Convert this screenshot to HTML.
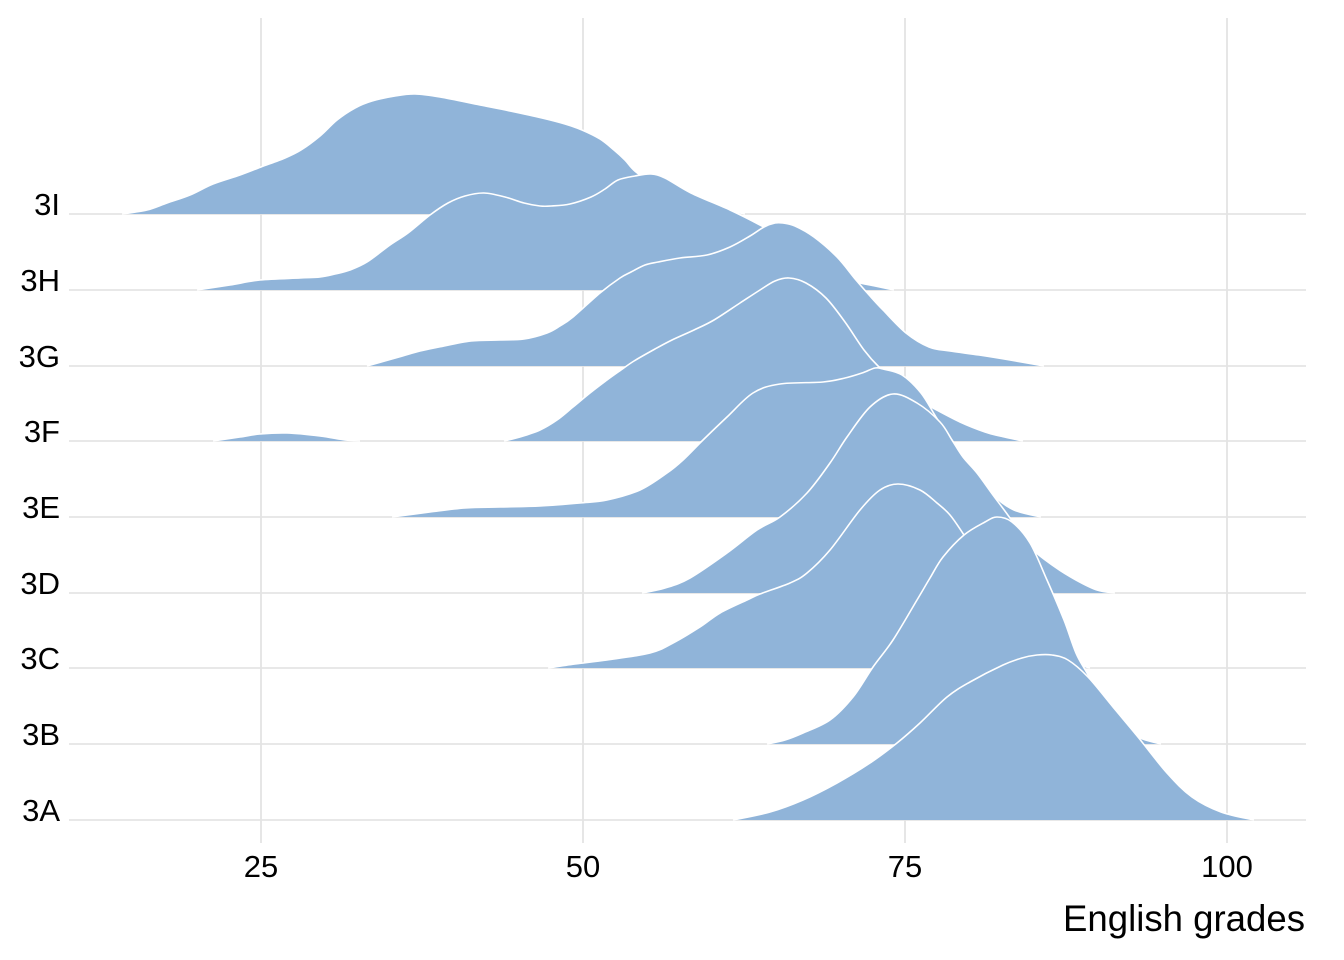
<!DOCTYPE html>
<html><head><meta charset="utf-8"><style>
html,body{margin:0;padding:0;background:#fff;}
svg{display:block;}
text{font-family:"Liberation Sans",Arial,sans-serif;fill:#000;}
</style></head><body>
<svg id="chart" width="1344" height="960" viewBox="0 0 1344 960" xmlns="http://www.w3.org/2000/svg">
<rect width="1344" height="960" fill="#fff"/>
<g stroke="#e4e4e4" stroke-width="1.8">
<line x1="261" y1="18" x2="261" y2="843"/>
<line x1="583" y1="18" x2="583" y2="843"/>
<line x1="905" y1="18" x2="905" y2="843"/>
<line x1="1227" y1="18" x2="1227" y2="843"/>
<line x1="69" y1="214" x2="1306" y2="214"/>
<line x1="69" y1="290" x2="1306" y2="290"/>
<line x1="69" y1="366" x2="1306" y2="366"/>
<line x1="69" y1="441" x2="1306" y2="441"/>
<line x1="69" y1="517" x2="1306" y2="517"/>
<line x1="69" y1="593" x2="1306" y2="593"/>
<line x1="69" y1="668" x2="1306" y2="668"/>
<line x1="69" y1="744" x2="1306" y2="744"/>
<line x1="69" y1="820" x2="1306" y2="820"/>
</g>
<!-- 3I -->
<polygon class="r" fill="#90b4d9" points="122,214 147,210 167,203 190,195 213,184 240,175 261,167 285,158 301,150 320,136 337,120 355,108 372,101 395,96 415,94 440,97 480,105 510,111 542,118 565,124 582,130 600,139 614,150 625,160 636,172 660,188 690,201 720,209 745,214"/>
<polyline class="r" fill="none" stroke="#fff" stroke-width="1.6" points="122,214 147,210 167,203 190,195 213,184 240,175 261,167 285,158 301,150 320,136 337,120 355,108 372,101 395,96 415,94 440,97 480,105 510,111 542,118 565,124 582,130 600,139 614,150 625,160 636,172 660,188 690,201 720,209 745,214"/>
<!-- 3H -->
<polygon class="r" fill="#90b4d9" points="197,290 230,285 260,280 300,278 320,277 335,274 350,270 367,262 390,245 408,233 430,215 448,203 465,196 484,193 505,197 524,203 540,206 551,206 570,204 591,197 605,189 618,180 635,176 651,174 665,178 691,193 730,210 760,225 790,242 820,263 840,276 856,282 875,286 894,290"/>
<polyline class="r" fill="none" stroke="#fff" stroke-width="1.6" points="197,290 230,285 260,280 300,278 320,277 335,274 350,270 367,262 390,245 408,233 430,215 448,203 465,196 484,193 505,197 524,203 540,206 551,206 570,204 591,197 605,189 618,180 635,176 651,174 665,178 691,193 730,210 760,225 790,242 820,263 840,276 856,282 875,286 894,290"/>
<!-- 3G -->
<polygon class="r" fill="#90b4d9" points="367,366 399,357 420,351 439,347 471,341 500,340 524,339 547,333 560,326 573,317 600,293 620,278 631,272 645,265 658,262 680,258 707,255 730,247 750,236 764,227 775,223 783,223 795,226 814,237 837,257 856,280 870,296 883,310 906,333 929,347 950,351 979,355 1010,360 1044,366"/>
<polyline class="r" fill="none" stroke="#fff" stroke-width="1.6" points="367,366 399,357 420,351 439,347 471,341 500,340 524,339 547,333 560,326 573,317 600,293 620,278 631,272 645,265 658,262 680,258 707,255 730,247 750,236 764,227 775,223 783,223 795,226 814,237 837,257 856,280 870,296 883,310 906,333 929,347 950,351 979,355 1010,360 1044,366"/>
<!-- 3F -->
<polygon class="r" fill="#90b4d9" points="213,441 240,437 260,434 287,433 320,436 345,440 360,441"/>
<polyline class="r" fill="none" stroke="#fff" stroke-width="1.6" points="213,441 240,437 260,434 287,433 320,436 345,440 360,441"/>
<polygon class="r" fill="#90b4d9" points="504,441 520,437 540,430 557,420 573,407 590,393 607,380 621,370 634,361 655,349 672,340 694,330 714,320 740,303 760,290 775,281 789,278 806,283 826,298 845,322 864,350 879,367 900,385 915,398 933,408 960,422 985,432 1000,436 1023,441"/>
<polyline class="r" fill="none" stroke="#fff" stroke-width="1.6" points="504,441 520,437 540,430 557,420 573,407 590,393 607,380 621,370 634,361 655,349 672,340 694,330 714,320 740,303 760,290 775,281 789,278 806,283 826,298 845,322 864,350 879,367 900,385 915,398 933,408 960,422 985,432 1000,436 1023,441"/>
<!-- 3E -->
<polygon class="r" fill="#90b4d9" points="392,517 430,512 465,508 500,507 540,506 580,503 607,500 640,490 667,473 683,460 703,440 727,417 753,393 780,384 823,382 845,378 862,373 875,368 883,369 902,375 921,393 936,417 953,443 972,470 993,495 1014,510 1041,517"/>
<polyline class="r" fill="none" stroke="#fff" stroke-width="1.6" points="392,517 430,512 465,508 500,507 540,506 580,503 607,500 640,490 667,473 683,460 703,440 727,417 753,393 780,384 823,382 845,378 862,373 875,368 883,369 902,375 921,393 936,417 953,443 972,470 993,495 1014,510 1041,517"/>
<!-- 3D -->
<polygon class="r" fill="#90b4d9" points="642,593 665,588 690,578 727,553 757,530 780,517 807,493 830,463 847,437 870,407 893,394 917,403 940,422 952,440 963,457 977,473 993,495 1010,518 1030,547 1055,567 1076,580 1097,590 1115,593"/>
<polyline class="r" fill="none" stroke="#fff" stroke-width="1.6" points="642,593 665,588 690,578 727,553 757,530 780,517 807,493 830,463 847,437 870,407 893,394 917,403 940,422 952,440 963,457 977,473 993,495 1010,518 1030,547 1055,567 1076,580 1097,590 1115,593"/>
<!-- 3C -->
<polygon class="r" fill="#90b4d9" points="548,668 575,664 607,660 650,653 673,643 700,627 720,613 747,600 760,594 790,583 807,573 830,550 860,510 880,490 898,484 920,490 937,503 950,515 964,535 990,575 1020,620 1050,650 1070,662 1090,668"/>
<polyline class="r" fill="none" stroke="#fff" stroke-width="1.6" points="548,668 575,664 607,660 650,653 673,643 700,627 720,613 747,600 760,594 790,583 807,573 830,550 860,510 880,490 898,484 920,490 937,503 950,515 964,535 990,575 1020,620 1050,650 1070,662 1090,668"/>
<!-- 3B -->
<polygon class="r" fill="#90b4d9" points="767,744 785,740 803,733 830,720 853,697 873,667 893,640 917,600 930,578 943,557 964,535 985,522 997,517 1012,522 1030,543 1047,580 1064,620 1076,653 1087,673 1105,705 1122,728 1140,738 1161,744"/>
<polyline class="r" fill="none" stroke="#fff" stroke-width="1.6" points="767,744 785,740 803,733 830,720 853,697 873,667 893,640 917,600 930,578 943,557 964,535 985,522 997,517 1012,522 1030,543 1047,580 1064,620 1076,653 1087,673 1105,705 1122,728 1140,738 1161,744"/>
<!-- 3A -->
<polygon class="r" fill="#90b4d9" points="733,820 770,812 803,800 837,783 870,763 897,743 920,723 947,697 970,682 1003,665 1022,658 1037,655 1052,655 1068,660 1088,677 1113,707 1138,737 1167,773 1192,797 1221,812 1254,820"/>
<polyline class="r" fill="none" stroke="#fff" stroke-width="1.6" points="733,820 770,812 803,800 837,783 870,763 897,743 920,723 947,697 970,682 1003,665 1022,658 1037,655 1052,655 1068,660 1088,677 1113,707 1138,737 1167,773 1192,797 1221,812 1254,820"/>

<g font-size="31" text-anchor="end">
<text x="60" y="215">3I</text>
<text x="60" y="291">3H</text>
<text x="60" y="367">3G</text>
<text x="60" y="442">3F</text>
<text x="60" y="518">3E</text>
<text x="60" y="594">3D</text>
<text x="60" y="669">3C</text>
<text x="60" y="745">3B</text>
<text x="60" y="821">3A</text>
</g>
<g font-size="31" text-anchor="middle">
<text x="261" y="877">25</text>
<text x="583" y="877">50</text>
<text x="905" y="877">75</text>
<text x="1227" y="877">100</text>
</g>
<text x="1305" y="931" font-size="36.6" text-anchor="end">English grades</text>
</svg>
<script>
(function(){
  try{
    var NS="http://www.w3.org/2000/svg";
    var els=document.querySelectorAll("#chart .r");
    for(var k=0;k<els.length;k++){
      var el=els[k];
      var raw=el.getAttribute("points").trim().split(/\s+/);
      var p=[];
      for(var i=0;i<raw.length;i++){var xy=raw[i].split(",");p.push([+xy[0],+xy[1]]);}
      var d="M"+p[0][0]+","+p[0][1];
      for(var i=0;i<p.length-1;i++){
        var p0=p[i>0?i-1:i],p1=p[i],p2=p[i+1],p3=p[i+2<p.length?i+2:i+1];
        var c1x=p1[0]+(p2[0]-p0[0])/6,c1y=p1[1]+(p2[1]-p0[1])/6;
        var c2x=p2[0]-(p3[0]-p1[0])/6,c2y=p2[1]-(p3[1]-p1[1])/6;
        d+=" C"+c1x.toFixed(2)+","+c1y.toFixed(2)+" "+c2x.toFixed(2)+","+c2y.toFixed(2)+" "+p2[0]+","+p2[1];
      }
      if(el.tagName.toLowerCase()==="polygon") d+=" Z";
      var path=document.createElementNS(NS,"path");
      path.setAttribute("d",d);
      path.setAttribute("fill",el.getAttribute("fill"));
      if(el.getAttribute("stroke")){
        path.setAttribute("stroke",el.getAttribute("stroke"));
        path.setAttribute("stroke-width",el.getAttribute("stroke-width"));
        path.setAttribute("stroke-linejoin","round");
      }
      el.parentNode.replaceChild(path,el);
    }
  }catch(e){}
})();
</script>
</body></html>
